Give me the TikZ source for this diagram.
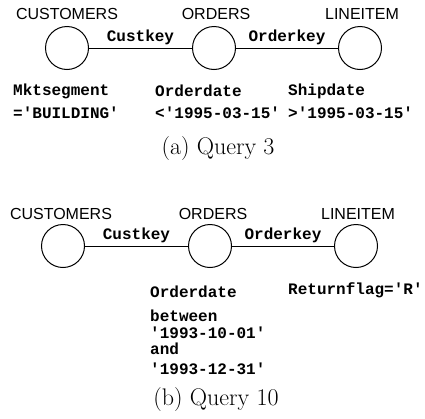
\documentclass[tikz,border=0pt]{standalone}
\usepackage{fontspec}
\setsansfont{Liberation Sans}
\setmonofont{Liberation Mono}
\begin{document}
\begin{tikzpicture}[
	x=1pt, y=-1pt,
	relation/.style={circle, draw, line width=1pt, minimum size=43pt, inner sep=0pt},
	relname/.style={font=\fontsize{16}{19}\sffamily},
	attr/.style={font=\fontsize{16}{19}\ttfamily\bfseries, inner sep=1pt},
	pred/.style={attr, anchor=west},
	caption/.style={font=\fontsize{24}{28}\rmfamily}]
   \useasboundingbox (0,0) rectangle (425,418);
   % (a) Query 3
   \node[relname] (acustname) at (67,14) {CUSTOMERS};
   \node[relname] (aordname) at (216,14) {ORDERS};
   \node[relname] (alinename) at (362,14) {LINEITEM};
   \node[relation] (acust) at (67,48) {};
   \node[relation] (aord) at (214,48) {};
   \node[relation] (aline) at (360,48) {};
   \draw[line width=0.9pt] (acust) -- node[attr, above=2pt]{Custkey} (aord);
   \draw[line width=0.9pt] (aord) -- node[attr, above=2pt]{Orderkey} (aline);
   \node[pred] (amkt) at (12,91) {Mktsegment};
   \node[pred] (amktval) at (12,113) {='BUILDING'};
   \node[pred] (aodate) at (154,91) {Orderdate};
   \node[pred] (aodateval) at (154,113) {<'1995-03-15'};
   \node[pred] (asdate) at (287,91) {Shipdate};
   \node[pred] (asdateval) at (287,113) {>'1995-03-15'};
   \node[caption] (acap) at (218,149) {(a) Query 3};
   % (b) Query 10
   \node[relname] (bcustname) at (61,214) {CUSTOMERS};
   \node[relname] (bordname) at (213,214) {ORDERS};
   \node[relname] (blinename) at (358,214) {LINEITEM};
   \node[relation] (bcust) at (63,246) {};
   \node[relation] (bord) at (210,246) {};
   \node[relation] (bline) at (356,246) {};
   \draw[line width=0.9pt] (bcust) -- node[attr, above=2pt]{Custkey} (bord);
   \draw[line width=0.9pt] (bord) -- node[attr, above=2pt]{Orderkey} (bline);
   \node[pred] (bodate) at (149,292) {Orderdate};
   \node[pred] (bbetween) at (149,316) {between};
   \node[pred] (bfrom) at (149,333) {'1993-10-01'};
   \node[pred] (band) at (149,349) {and};
   \node[pred] (bto) at (149,369) {'1993-12-31'};
   \node[pred] (bflag) at (287,290) {Returnflag='R'};
   \node[caption] (bcap) at (216,400) {(b) Query 10};
\end{tikzpicture}
\end{document}
